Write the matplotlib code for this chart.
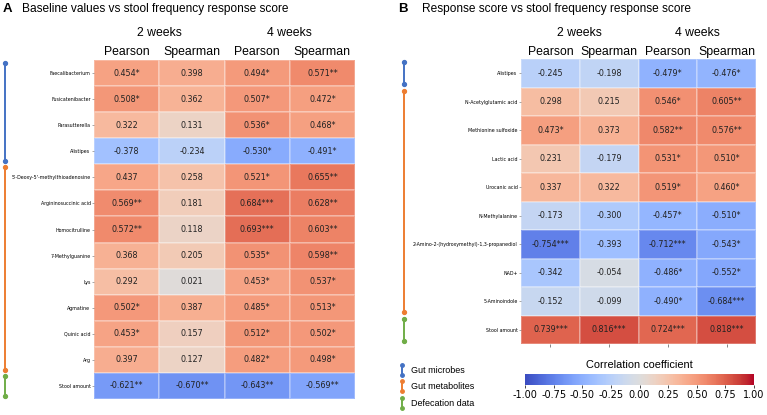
import numpy as np
import matplotlib
matplotlib.use("Agg")
import matplotlib.pyplot as plt
from matplotlib.transforms import blended_transform_factory

# ---- data ----
columns = ["Pearson", "Spearman", "Pearson", "Spearman"]
periods = ["2 weeks", "4 weeks"]

left_rows = ["Faecalibacterium", "Fusicatenibacter", "Parasutterella", "Alistipes",
             "5'-Deoxy-5'-methylthioadenosine", "Argininosuccinic acid", "Homocitrulline",
             "7-Methylguanine", "Lys", "Agmatine", "Quinic acid", "Arg", "Stool amount"]
left_groups = [4, 8, 1]
left_p2 = [0.454, 0.508, 0.322, -0.378, 0.437, 0.569, 0.572, 0.368, 0.292, 0.502, 0.453, 0.397, -0.621]
left_s2 = [0.398, 0.362, 0.131, -0.234, 0.258, 0.181, 0.118, 0.205, 0.021, 0.387, 0.157, 0.127, -0.670]
left_p4 = [0.494, 0.507, 0.536, -0.530, 0.521, 0.684, 0.693, 0.535, 0.453, 0.485, 0.512, 0.482, -0.643]
left_s4 = [0.571, 0.472, 0.468, -0.491, 0.655, 0.628, 0.603, 0.598, 0.537, 0.513, 0.502, 0.498, -0.569]
left_p2_sig = ["*", "*", "", "", "", "**", "**", "", "", "*", "*", "", "**"]
left_s2_sig = ["", "", "", "", "", "", "", "", "", "", "", "", "**"]
left_p4_sig = ["*", "*", "*", "*", "*", "***", "***", "*", "*", "*", "*", "*", "**"]
left_s4_sig = ["**", "*", "*", "*", "**", "**", "**", "**", "*", "*", "*", "*", "**"]

right_rows = ["Alistipes", "N-Acetylglutamic acid", "Methionine sulfoxide", "Lactic acid",
              "Urocanic acid", "N-Methylalanine", "2-Amino-2-(hydroxymethyl)-1,3-propanediol",
              "NAD+", "5-Aminoindole", "Stool amount"]
right_groups = [1, 8, 1]
right_p2 = [-0.245, 0.298, 0.473, 0.231, 0.337, -0.173, -0.754, -0.342, -0.152, 0.739]
right_s2 = [-0.198, 0.215, 0.373, -0.179, 0.322, -0.300, -0.393, -0.054, -0.099, 0.816]
right_p4 = [-0.479, 0.546, 0.582, 0.531, 0.519, -0.457, -0.712, -0.486, -0.490, 0.724]
right_s4 = [-0.476, 0.605, 0.576, 0.510, 0.460, -0.510, -0.543, -0.552, -0.684, 0.818]
right_p2_sig = ["", "", "*", "", "", "", "***", "", "", "***"]
right_s2_sig = ["", "", "", "", "", "", "", "", "", "***"]
right_p4_sig = ["*", "*", "**", "*", "*", "*", "***", "*", "*", "***"]
right_s4_sig = ["*", "**", "**", "*", "*", "*", "*", "*", "***", "***"]

group_names = ["Gut microbes", "Gut metabolites", "Defecation data"]
group_colors = ["#4472c4", "#ed7d31", "#70ad47"]

W, H = 767, 415
fig = plt.figure(figsize=(W / 100, H / 100), dpi=100)
HEAD = "Liberation Sans"


def px(x, y):
    return x / W, 1 - y / H


def draw_panel(rect, rows, vals, sigs, groups, bx, bottom_ticks):
    x0, y0, x1, y1 = rect
    ax = fig.add_axes([x0 / W, 1 - y1 / H, (x1 - x0) / W, (y1 - y0) / H])
    data = np.array(vals).T
    ax.pcolormesh(data, cmap="coolwarm", vmin=-1, vmax=1,
                  edgecolors=(1, 1, 1, 0.25), linewidth=0.3)
    ax.set_xlim(0, 4)
    ax.set_ylim(len(rows), 0)
    for j in range(4):
        for i in range(len(rows)):
            ax.text(j + 0.5, i + 0.5, f"{vals[j][i]:.3f}{sigs[j][i]}", ha="center", va="center",
                    fontsize=5.8, color="#222222")
    ax.set_yticks(np.arange(len(rows)) + 0.5)
    ax.set_yticklabels(rows, fontsize=3.4)
    ax.tick_params(axis="y", length=1.5, width=0.4, pad=1, color="#666666")
    if bottom_ticks:
        ax.set_xticks(np.arange(4) + 0.5)
        ax.set_xticklabels([])
        ax.tick_params(axis="x", length=2.5, width=0.5, color="#555555")
    else:
        ax.set_xticks([])
    for s in ax.spines.values():
        s.set_visible(False)

    tr = blended_transform_factory(ax.transData, fig.transFigure)
    for k, p in enumerate(periods):
        ax.text(2 * k + 1, 1 - 33 / H, p, transform=tr, ha="center", va="center",
                fontsize=8.8, family=HEAD)
    for j, c in enumerate(columns):
        ax.text(j + 0.5, 1 - 52 / H, c, transform=tr, ha="center", va="center",
                fontsize=8.8, family=HEAD)

    # group brackets
    trb = blended_transform_factory(fig.transFigure, ax.transData)
    start = 0
    for g, n in enumerate(groups):
        ax.plot([bx / W, bx / W], [start + 0.12, start + n - 0.12], transform=trb,
                color=group_colors[g], lw=1.4, marker="o", markersize=2.8, clip_on=False)
        start += n
    return ax


draw_panel((94, 60, 355, 399), left_rows, [left_p2, left_s2, left_p4, left_s4],
           [left_p2_sig, left_s2_sig, left_p4_sig, left_s4_sig], left_groups, 5, False)
draw_panel((521, 59, 756, 344), right_rows, [right_p2, right_s2, right_p4, right_s4],
           [right_p2_sig, right_s2_sig, right_p4_sig, right_s4_sig], right_groups, 404, True)

# panel titles
fig.text(*px(3, 9), "A", fontsize=9.5, fontweight="bold", family=HEAD, va="center")
fig.text(*px(22, 9), "Baseline values vs stool frequency response score", fontsize=8.6,
         family=HEAD, va="center")
fig.text(*px(398, 9), "B", fontsize=9.5, fontweight="bold", family=HEAD, va="center")
fig.text(*px(422, 9), "Response score vs stool frequency response score", fontsize=8.6,
         family=HEAD, va="center")

# colorbar
cax = fig.add_axes([525 / W, 1 - 385 / H, 229 / W, 11 / H])
sm = plt.cm.ScalarMappable(cmap="coolwarm", norm=plt.Normalize(-1, 1))
cb = fig.colorbar(sm, cax=cax, orientation="horizontal")
cb.set_ticks(np.arange(-1, 1.01, 0.25))
cb.ax.xaxis.set_major_formatter(matplotlib.ticker.FormatStrFormatter("%.2f"))
cb.ax.tick_params(labelsize=7, length=2.5, width=0.5, pad=1)
cb.outline.set_visible(False)
fig.text(*px(639, 365), "Correlation coefficient", fontsize=7.9, family=HEAD,
         ha="center", va="center")

# legend
for g, (name, yy) in enumerate(zip(group_names, [370, 386, 403])):
    fig.lines.append(plt.Line2D([402 / W, 402 / W], [1 - (yy - 5) / H, 1 - (yy + 5) / H],
                                transform=fig.transFigure, color=group_colors[g], lw=1.4,
                                marker="o", markersize=2.5))
    fig.text(*px(411, yy), name, fontsize=6.5, family=HEAD, va="center")

fig.savefig("out.png", dpi=100)
